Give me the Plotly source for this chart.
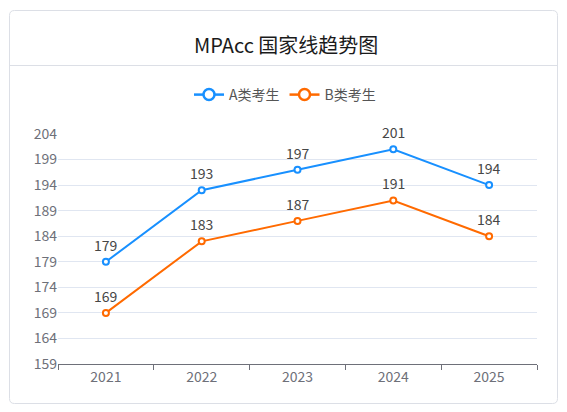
import plotly.graph_objects as go

#?  Data
years    = ["2021", "2022", "2023", "2024", "2025"]
a_scores = [179, 193, 197, 201, 194]
b_scores = [169, 183, 187, 191, 184]
y_ticks  = [159, 164, 169, 174, 179, 184, 189, 194, 199, 204]

blue, orange = "#1890FF", "#FF6A00"
font_cn = "Noto Sans CJK SC, Microsoft YaHei, sans-serif"
OFF = 8                          # page body margin
W, H = 567 - OFF, 412 - OFF
L, R, T, B = 58, 537, 134, 364   # plot area in window pixels

fig = go.Figure()
for name, vals, col in [("A类考生", a_scores, blue), ("B类考生", b_scores, orange)]:
    fig.add_trace(go.Scatter(
        x=years, y=vals, mode="lines+markers", name=name, showlegend=False,
        line=dict(color=col, width=2),
        marker=dict(symbol="circle", size=6, color="white", line=dict(color=col, width=2)),
        cliponaxis=False))
    # legend-only trace with the bigger symbol
    fig.add_trace(go.Scatter(
        x=[None], y=[None], mode="lines+markers", name=name,
        line=dict(color=col, width=2.5),
        marker=dict(symbol="circle", size=11, color="white", line=dict(color=col, width=2.5))))
    # value labels (category index on the x axis)
    for i, v in enumerate(vals):
        fig.add_annotation(x=i, y=v, xref="x", yref="y", text=str(v), showarrow=False, yshift=17,
                           font=dict(size=14, color="#464646", family=font_cn))

# paper coords are relative to the plot area
def px(x, y):
    return (x - L) / (R - L), (B - y) / (B - T)

# card with rounded corners
cx0, cy0 = px(9.5, 10.5)
cx1, cy1 = px(557.5, 403.5)
rx, ry = 5 / (R - L), 5 / (B - T)
card = (f"M {cx0+rx},{cy0} L {cx1-rx},{cy0} Q {cx1},{cy0} {cx1},{cy0-ry} "
        f"L {cx1},{cy1+ry} Q {cx1},{cy1} {cx1-rx},{cy1} L {cx0+rx},{cy1} "
        f"Q {cx0},{cy1} {cx0},{cy1+ry} L {cx0},{cy0-ry} Q {cx0},{cy0} {cx0+rx},{cy0} Z")
sep_y = px(0, 65.5)[1]
tx, ty = px(286, 44)
lx, ly = px(285, 95)

fig.add_annotation(text="MPAcc 国家线趋势图", xref="paper", yref="paper",
                   x=tx, y=ty, xanchor="center", yanchor="middle",
                   showarrow=False, font=dict(size=20, color="#1a1a1a", family=font_cn))

fig.update_layout(
    width=W, height=H,
    paper_bgcolor="white", plot_bgcolor="white",
    margin=dict(l=L - OFF, r=567 - R, t=T - OFF, b=412 - B, pad=0),
    font=dict(family=font_cn, color="#6E7079"),
    shapes=[
        dict(type="path", path=card, xref="paper", yref="paper",
             line=dict(color="#DCDFE6", width=1), fillcolor="rgba(0,0,0,0)", layer="below"),
        dict(type="line", xref="paper", yref="paper", x0=cx0, x1=cx1, y0=sep_y, y1=sep_y,
             line=dict(color="#DCDFE6", width=1)),
    ],
    legend=dict(orientation="h", xref="paper", yref="paper", x=lx, y=ly,
                xanchor="center", yanchor="middle", itemwidth=30,
                font=dict(size=14, color="#555555", family=font_cn), traceorder="normal"),
    xaxis=dict(type="category", range=[-0.5, 4.5], showgrid=False,
               showline=True, linecolor="#6E7079", linewidth=1,
               ticks="outside", tickson="boundaries", ticklen=5, tickcolor="#6E7079",
               tickfont=dict(size=14, color="#6E7079"), fixedrange=True),
    yaxis=dict(range=[159, 204], tickvals=y_ticks, showgrid=True, gridcolor="#E0E6F1",
               zeroline=False, showline=False, ticks="", ticklen=0,
               tickfont=dict(size=14, color="#6E7079"), fixedrange=True),
)

fig.write_html("out.html")
